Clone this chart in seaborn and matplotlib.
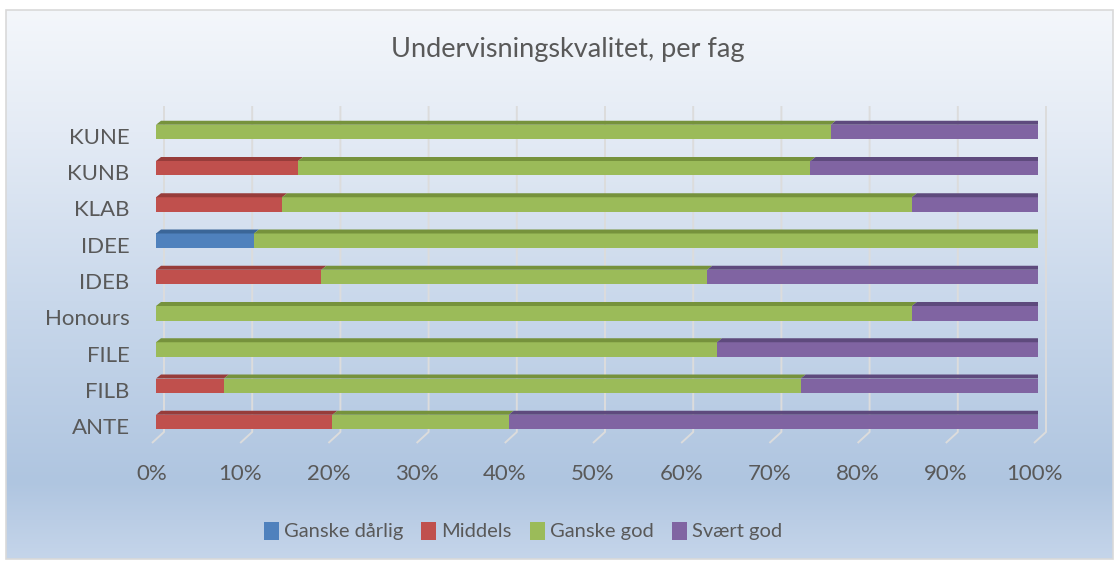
"""
Undervisningskvalitet per fag - stablet 100% liggende stolpediagram
"""

import numpy as np
import pandas as pd
import seaborn as sns
import matplotlib.pyplot as plt
from matplotlib.patches import Polygon, Patch, Rectangle
from matplotlib.colors import LinearSegmentedColormap
from matplotlib.transforms import ScaledTranslation

# Data (prosent)
fag = ['KUNE', 'KUNB', 'KLAB', 'IDEE', 'IDEB', 'Honours', 'FILE', 'FILB', 'ANTE']
ganske_darlig = [0, 0, 0, 11.1, 0, 0, 0, 0, 0]
middels = [0, 16.1, 14.3, 0, 18.75, 0, 0, 7.7, 20.0]
ganske_god = [76.5, 58.1, 71.4, 88.9, 43.75, 85.7, 63.6, 65.4, 20.0]
svaert_god = [23.5, 25.8, 14.3, 0, 37.5, 14.3, 36.4, 26.9, 60.0]
serier = ['Ganske dårlig', 'Middels', 'Ganske god', 'Svært god']
x_ticks = [0, 10, 20, 30, 40, 50, 60, 70, 80, 90, 100]

farger = ['#4F81BD', '#C0504D', '#9BBB59', '#8064A2']
topp_farger = ['#3B6698', '#973C3A', '#76923C', '#5E4A7D']
side_farge = '#5A4676'
tekst_farge = '#595959'

plt.rcParams['font.family'] = ['Lato', 'DejaVu Sans']

W, H = 1117, 562
fig = plt.figure(figsize=(W / 100, H / 100), dpi=100)

# Bakgrunn med gradient
bg = fig.add_axes([0, 0, 1, 1])
bg.set_xlim(0, W)
bg.set_ylim(H, 0)
bg.axis('off')
cmap = LinearSegmentedColormap.from_list('bg', [
    (0.0, '#F4F7FB'), (0.22, '#E4EBF5'), (0.53, '#C9D8EB'),
    (0.86, '#AFC5E0'), (1.0, '#C5D5EA')])
grad = np.linspace(0, 1, 256).reshape(-1, 1)
bg.imshow(grad, cmap=cmap, extent=(6, 1113, 559, 10), aspect='auto', zorder=0)
bg.add_patch(Rectangle((6, 10), 1107, 549, fill=False, edgecolor='#D9D9D9', lw=1.2, zorder=1))

# Hovedakse
ax = fig.add_axes([156 / W, (H - 443) / H, 882 / W, 337 / H])
ax.patch.set_alpha(0)

df = pd.DataFrame({'fag': fag, serier[0]: ganske_darlig, serier[1]: middels,
                   serier[2]: ganske_god, serier[3]: svaert_god})
cum = df[serier].cumsum(axis=1)

bar_h = 0.4
for s, c in reversed(list(zip(serier, farger))):
    sns.barplot(x=cum[s], y=df['fag'], order=fag, color=c, orient='h',
                width=bar_h, saturation=1, linewidth=0, ax=ax, zorder=3)

# 3D-effekt: topp og side
px = 100 / 882
dx, dy = 5 * px, 4 / 36.25
for i in range(len(fag)):
    start = 0
    y_top = i - bar_h / 2
    for s, tc in zip(serier, topp_farger):
        slutt = cum.loc[i, s]
        if slutt > start:
            ax.add_patch(Polygon([(start, y_top), (slutt, y_top),
                                  (slutt + dx, y_top - dy), (start + dx, y_top - dy)],
                                 closed=True, facecolor=tc, edgecolor='none', zorder=3))
        start = slutt
    ax.add_patch(Polygon([(100, y_top), (100 + dx, y_top - dy),
                          (100 + dx, y_top + bar_h - dy), (100, y_top + bar_h)],
                         closed=True, facecolor=side_farge, edgecolor='none', zorder=3))

y_min, y_max = -26 / 36.25, 8 + 21 / 36.25
ax.set_ylim(y_max, y_min)
ax.set_xlim(0, 100)

# Rutenett (bakvegg + gulv)
y_knekk = 8 + 10 / 36.25
for t in x_ticks:
    ax.plot([t + 8 * px, t + 8 * px, t - 4 * px], [y_min, y_knekk, y_max],
            color='#DCDCDC', lw=1.4, zorder=1, clip_on=False, solid_capstyle='butt')

for sp in ax.spines.values():
    sp.set_visible(False)
ax.set_xlabel('')
ax.set_ylabel('')
ax.set_xticks(x_ticks)
ax.set_xticklabels([f'{t}%' for t in x_ticks], fontsize=16, color=tekst_farge)
ax.tick_params(axis='x', length=0, pad=15)
ax.tick_params(axis='y', length=0, pad=19, labelsize=16, labelcolor=tekst_farge)
for lbl in ax.get_xticklabels():
    lbl.set_transform(lbl.get_transform() + ScaledTranslation(-4 / 100, 0, fig.dpi_scale_trans))
for lbl in ax.get_yticklabels():
    lbl.set_transform(lbl.get_transform() + ScaledTranslation(0, -4 / 100, fig.dpi_scale_trans))

fig.text(568 / W, 1 - 57 / H, 'Undervisningskvalitet, per fag', ha='center', va='baseline',
         fontsize=19.5, color=tekst_farge)

handles = [Patch(facecolor=c, edgecolor='none', label=s) for s, c in zip(serier, farger)]
fig.legend(handles=handles, loc='center', bbox_to_anchor=(523 / W, 1 - 531 / H), ncol=4,
           frameon=False, fontsize=14.5, labelcolor=tekst_farge, handlelength=0.75,
           handleheight=1.0, handletextpad=0.25, columnspacing=0.9)

plt.savefig('out.png', dpi=100)
